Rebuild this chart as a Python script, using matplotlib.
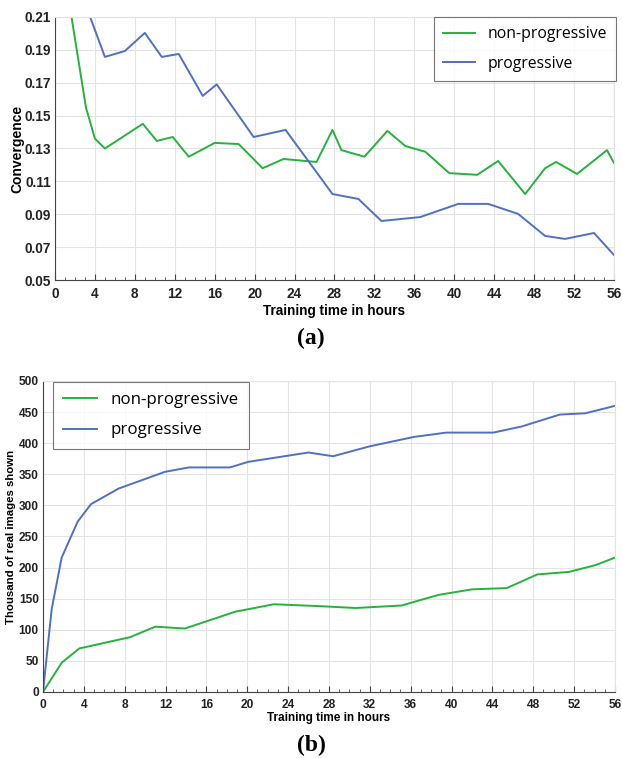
import numpy as np
import matplotlib
matplotlib.use('Agg')
import matplotlib.pyplot as plt
from matplotlib.ticker import MultipleLocator

# (a) convergence
conv_np_hours = [1.0, 3.1, 4.0, 5.0, 8.8, 10.2, 11.8, 13.4, 16.0, 18.4, 20.8, 22.9, 26.2,
                 27.8, 28.7, 31.0, 33.3, 35.1, 37.1, 39.5, 42.3, 44.4, 47.1, 49.1, 50.2,
                 52.3, 55.3, 56.0]
conv_np = [0.235, 0.155, 0.136, 0.130, 0.145, 0.1346, 0.137, 0.125, 0.1334, 0.1327, 0.118,
           0.1236, 0.1218, 0.1413, 0.129, 0.125, 0.1407, 0.1315, 0.128, 0.115, 0.114,
           0.1224, 0.1023, 0.118, 0.1218, 0.1145, 0.129, 0.1212]
conv_p_hours = [2.0, 5.0, 7.0, 9.0, 10.7, 12.4, 14.8, 16.2, 19.9, 23.1, 27.8, 30.4, 32.7,
                36.6, 40.4, 43.4, 46.4, 49.1, 51.1, 54.0, 56.0]
conv_p = [0.235, 0.1857, 0.1893, 0.2003, 0.1857, 0.1875, 0.162, 0.169, 0.137, 0.1413,
          0.1023, 0.0993, 0.0859, 0.0883, 0.0963, 0.0963, 0.0902, 0.0768, 0.075, 0.0786,
          0.0652]

# (b) thousand of real images shown
img_np_hours = [0, 1.83, 3.56, 8.5, 11.0, 13.9, 18.8, 22.6, 27.1, 30.6, 35.1, 38.7, 42.0,
                45.4, 48.4, 51.5, 54.1, 56.0]
img_np = [0, 47, 70, 88, 105, 102, 129, 141, 138, 135, 139, 156, 165, 167, 189, 193, 204, 216]
img_p_hours = [0, 0.85, 1.83, 3.4, 4.7, 7.4, 11.95, 14.3, 18.3, 20.1, 26.0, 28.4, 32.0,
               36.3, 39.5, 44.1, 46.9, 50.6, 53.1, 56.0]
img_p = [0, 133, 216, 274, 302, 327, 354, 361, 361, 370, 385, 379, 395, 410, 417, 417,
         427, 446, 448, 460]

GREEN = '#26b23c'
BLUE = '#5070c2'

plt.rcParams['font.family'] = ['Liberation Sans', 'DejaVu Sans']

fig = plt.figure(figsize=(6.22, 7.58), dpi=100)


def style_axes(ax, fs):
    ax.grid(True, color='#e3e3e3', lw=0.8)
    ax.set_axisbelow(True)
    for s in ['top', 'right']:
        ax.spines[s].set_color('#e3e3e3')
    for s in ['left', 'bottom']:
        ax.spines[s].set_color('#444444')
    ax.xaxis.set_major_locator(MultipleLocator(4))
    ax.xaxis.set_minor_locator(MultipleLocator(1))
    ax.tick_params(axis='x', which='both', direction='in', top=False, colors='#444444',
                   labelcolor='#222222')
    ax.tick_params(axis='x', which='major', length=4, pad=5)
    ax.tick_params(axis='x', which='minor', length=2)
    ax.tick_params(axis='y', length=0, pad=3, labelcolor='#222222')
    for lab in ax.get_xticklabels() + ax.get_yticklabels():
        lab.set_fontweight('bold')
        lab.set_fontsize(fs)


# top chart
ax1 = fig.add_axes([0.0884, 0.6306, 0.8987, 0.347])
ax1.plot(conv_np_hours, conv_np, color=GREEN, lw=1.4, label='non-progressive')
ax1.plot(conv_p_hours, conv_p, color=BLUE, lw=1.4, label='progressive')
ax1.set_xlim(0, 56)
ax1.set_ylim(0.05, 0.21)
ax1.set_yticks(np.arange(0.05, 0.2101, 0.02))
ax1.set_yticklabels(['%.2f' % v for v in np.arange(0.05, 0.2101, 0.02)])
style_axes(ax1, 9.8)
ax1.set_ylabel('Convergence', fontsize=10, fontweight='bold', labelpad=0)
ax1.set_xlabel('Training time in hours', fontsize=9.8, fontweight='bold', labelpad=2)
leg1 = ax1.legend(loc='upper right', bbox_to_anchor=(1.004, 1.0), fancybox=False,
                  prop={'family': 'Open Sans', 'size': 11.3}, handlelength=2.0,
                  handletextpad=0.8, borderpad=0.6, labelspacing=0.85, borderaxespad=0)
leg1.get_frame().set_edgecolor('#555555')
leg1.get_frame().set_linewidth(0.8)

# bottom chart
ax2 = fig.add_axes([0.0691, 0.0871, 0.9196, 0.4103])
ax2.plot(img_np_hours, img_np, color=GREEN, lw=1.4, label='non-progressive')
ax2.plot(img_p_hours, img_p, color=BLUE, lw=1.4, label='progressive')
ax2.set_xlim(0, 56)
ax2.set_ylim(0, 500)
ax2.yaxis.set_major_locator(MultipleLocator(50))
style_axes(ax2, 8.6)
ax2.set_ylabel('Thousand of real images shown', fontsize=8.2, fontweight='bold', labelpad=2)
ax2.set_xlabel('Training time in hours', fontsize=8.5, fontweight='bold', labelpad=1)
leg2 = ax2.legend(loc='upper left', bbox_to_anchor=(0.017, 0.997), fancybox=False,
                  prop={'family': 'Open Sans', 'size': 12.2}, handlelength=2.0,
                  handletextpad=0.8, borderpad=0.6, labelspacing=0.85, borderaxespad=0)
leg2.get_frame().set_edgecolor('#555555')
leg2.get_frame().set_linewidth(0.8)

fig.text(0.5, 1 - 338 / 758, '(a)', ha='center', va='center', fontsize=17,
         fontweight='bold', family='Liberation Serif')
fig.text(0.5, 1 - 745 / 758, '(b)', ha='center', va='center', fontsize=17,
         fontweight='bold', family='Liberation Serif')

fig.savefig('out.png', dpi=100)
